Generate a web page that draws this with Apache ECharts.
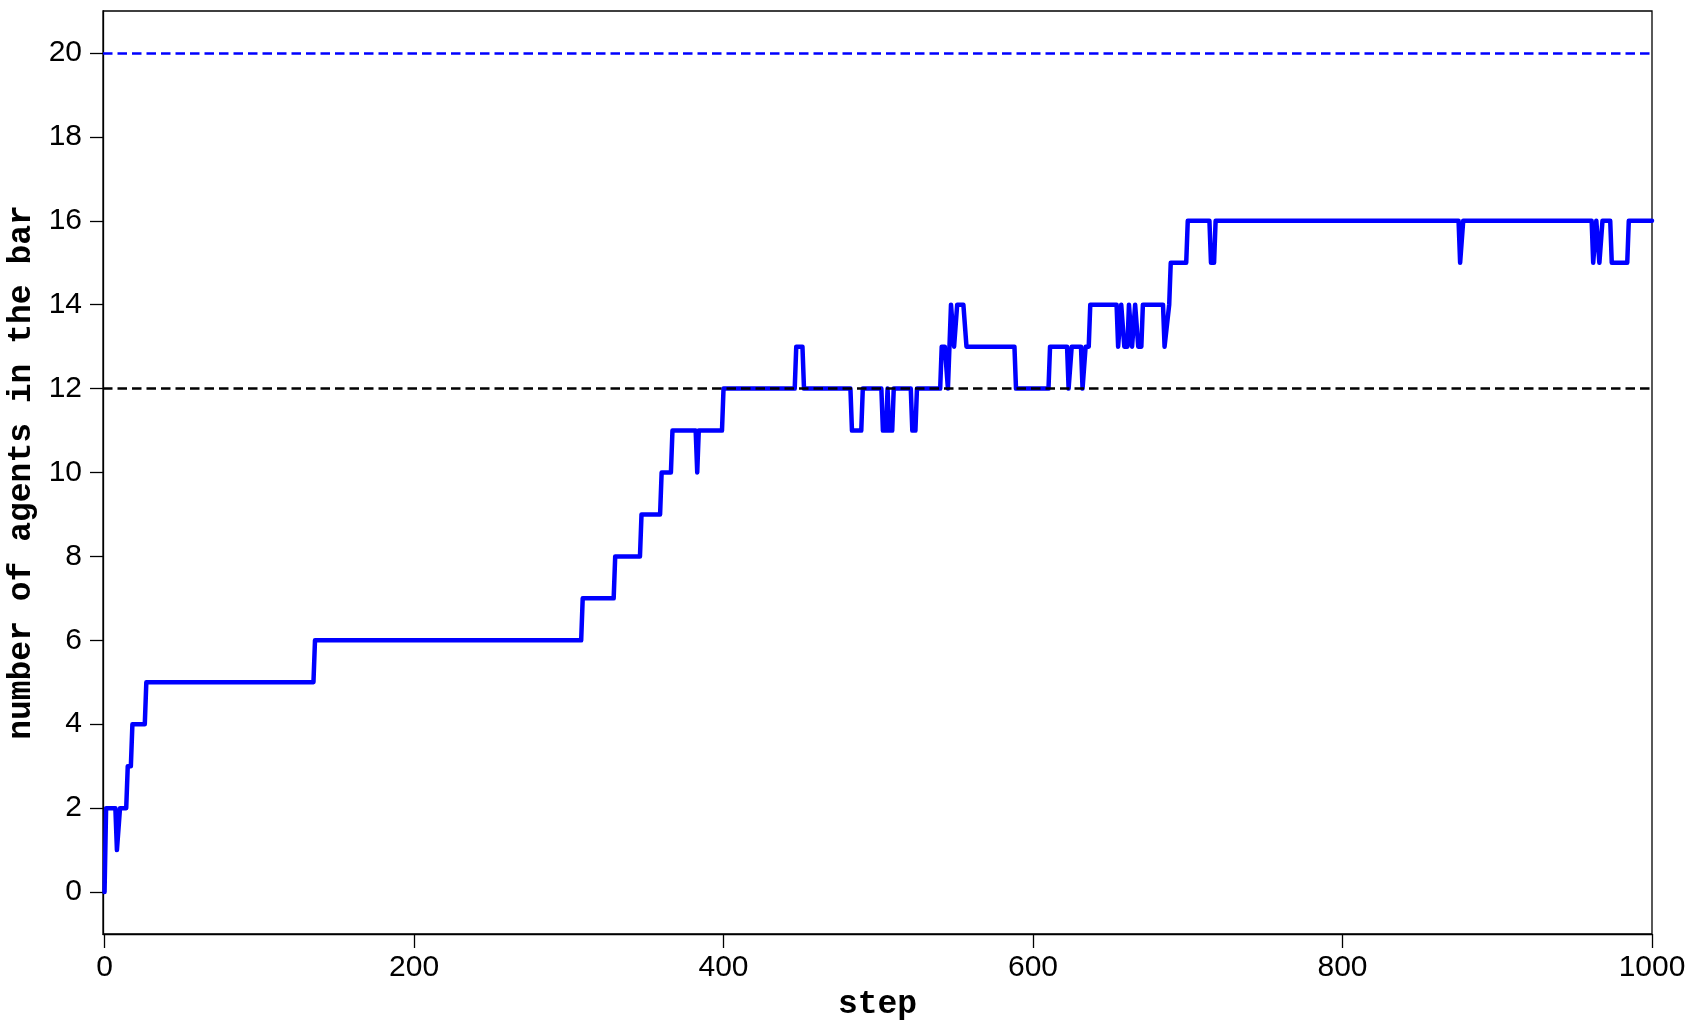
<!DOCTYPE html>
<html>
<head>
<meta charset="utf-8">
<script src="https://cdn.jsdelivr.net/npm/echarts@6/dist/echarts.min.js"></script>
<style>
    html, body { margin: 0; padding: 0; background: #fff; }
    #chart { width: 1695px; height: 1030px; }
</style>
</head>
<body>
<div id="chart"></div>
<script>
    // vertices of the agents-in-bar curve (step, count)
    const steps = [0, 1, 7, 8, 9, 10, 14, 15, 17, 18, 26, 27, 135, 136, 308, 309, 329, 330, 346, 347,
        359, 360, 366, 367, 382, 383, 384, 399, 400, 446, 447, 451, 452, 482, 483, 489, 490,
        502, 503, 505, 506, 507, 509, 510, 521, 522, 524, 525, 540, 541, 543, 545, 547, 549, 551,
        555, 557, 588, 589, 610, 611, 622, 623, 625, 631, 632, 634, 636, 637, 654, 655, 656, 657,
        658, 659, 661, 662, 663, 664, 665, 666, 667, 668, 670, 671, 684, 685, 686, 688, 689, 699,
        700, 714, 715, 717, 718, 875, 876, 877, 878, 961, 962, 963, 964, 965, 966, 967, 968, 973,
        974, 984, 985, 1000]
    const agents = [0, 2, 2, 1, 1, 2, 2, 3, 3, 4, 4, 5, 5, 6, 6, 7, 7, 8, 8, 9,
        9, 10, 10, 11, 11, 10, 11, 11, 12, 12, 13, 13, 12, 12, 11, 11, 12,
        12, 11, 11, 12, 11, 11, 12, 12, 11, 11, 12, 12, 13, 13, 12, 14, 13, 14,
        14, 13, 13, 12, 12, 13, 13, 12, 13, 13, 12, 13, 13, 14, 14, 13, 13, 14,
        14, 13, 13, 14, 14, 13, 13, 14, 14, 13, 13, 14, 14, 13, 13, 14, 15, 15,
        16, 16, 15, 15, 16, 16, 15, 15, 16, 16, 15, 15, 16, 16, 15, 15, 16, 16,
        15, 15, 16, 16]

    const capacity = 20
    const threshold = 12
    const xTicks = [0, 200, 400, 600, 800, 1000]
    const yTicks = [0, 2, 4, 6, 8, 10, 12, 14, 16, 18, 20]

    const tickFont = 'Liberation Sans'
    const nameFont = 'Liberation Mono'

    const myChart = echarts.init(document.getElementById('chart'))

    let option = {
        animation: false,
        grid: {
            left: 103,
            right: 43,
            top: 11,
            bottom: 96,
            outerBoundsMode: 'none',
            containLabel: false,
            show: true,
            borderColor: '#000',
            borderWidth: 1.3,
            backgroundColor: 'transparent'
        },
        xAxis: {
            type: 'value',
            min: -1,
            max: 1000,
            name: 'step',
            nameLocation: 'middle',
            nameGap: 48,
            nameTextStyle: { fontFamily: nameFont, fontSize: 33, fontWeight: 'bold', color: '#000' },
            axisLine: { show: true, onZero: false, lineStyle: { color: '#000', width: 1.3 } },
            axisTick: { show: true, inside: false, length: 14, customValues: xTicks, lineStyle: { color: '#000', width: 1.3 } },
            axisLabel: {
                customValues: xTicks, margin: 19, fontFamily: tickFont, fontSize: 30, color: '#000',
                formatter: (v) => String(v)
            },
            splitLine: { show: false }
        },
        yAxis: {
            type: 'value',
            min: -1,
            max: 21,
            name: 'number of agents in the bar',
            nameLocation: 'middle',
            nameRotate: 90,
            nameGap: 59,
            nameTextStyle: { fontFamily: nameFont, fontSize: 33, fontWeight: 'bold', color: '#000' },
            axisLine: { show: true, onZero: false, lineStyle: { color: '#000', width: 1.3 } },
            axisTick: { show: true, inside: false, length: 13, customValues: yTicks, lineStyle: { color: '#000', width: 1.3 } },
            axisLabel: {
                customValues: yTicks, margin: 21, fontFamily: tickFont, fontSize: 30, color: '#000',
                formatter: (v) => String(v)
            },
            splitLine: { show: false }
        },
        series: [
            {
                type: 'line',
                data: [],
                z: 1,
                silent: true,
                markLine: {
                    silent: true,
                    symbol: ['none', 'none'],
                    label: { show: false },
                    emphasis: { disabled: true },
                    data: [
                        { yAxis: capacity, lineStyle: { color: '#0000ff', type: [9.5, 5], width: 2.5 } },
                        { yAxis: threshold, lineStyle: { color: '#000000', type: [9.5, 5], width: 2.5 } }
                    ]
                }
            },
            {
                type: 'line',
                z: 3,
                data: steps.map((s, i) => [s, agents[i]]),
                showSymbol: false,
                symbol: 'none',
                lineStyle: { color: '#0000ff', width: 4.5, join: 'round', cap: 'round' },
                emphasis: { disabled: true }
            }
        ]
    }
    myChart.setOption(option)
</script>
</body>
</html>
